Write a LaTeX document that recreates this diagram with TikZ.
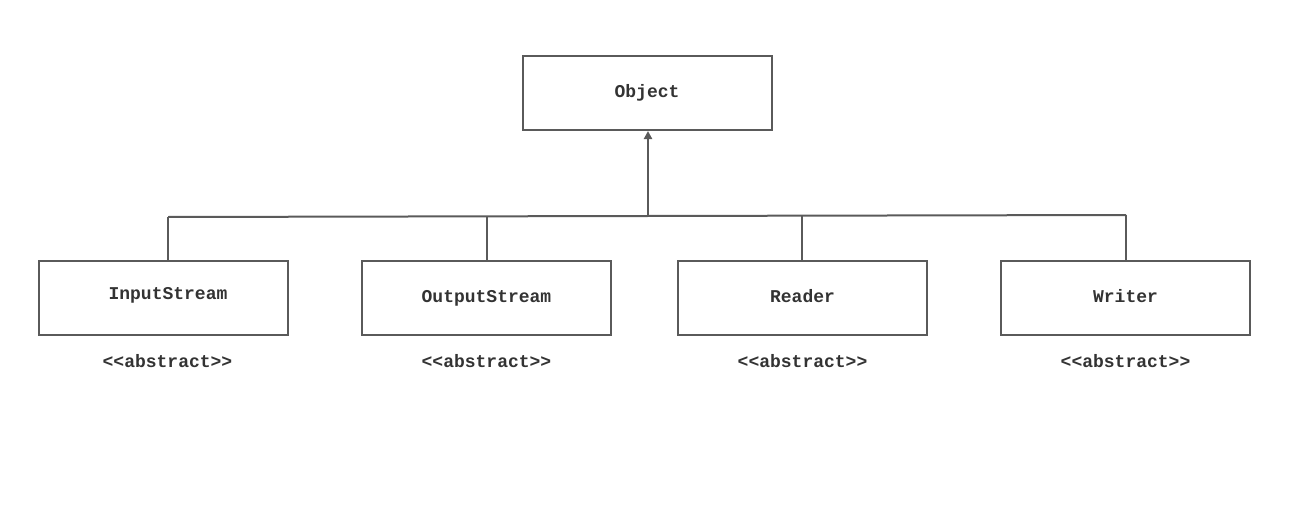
\documentclass[tikz,border=0pt]{standalone}
\usepackage{fontspec}
\setmonofont{Liberation Mono}
\usetikzlibrary{arrows.meta}
\definecolor{linegray}{HTML}{5A5A5A}
\definecolor{textgray}{HTML}{333333}
\tikzset{
  classbox/.style={draw=linegray, line width=2pt, fill=white, minimum width=249pt, minimum height=74pt, inner sep=0pt,
    text height=12pt, text depth=3pt,
    font=\ttfamily\bfseries\fontsize{18}{21}\selectfont, text=textgray},
  stereo/.style={inner sep=0pt, font=\ttfamily\bfseries\fontsize{18}{21}\selectfont, text=textgray},
  conn/.style={draw=linegray, line width=2pt},
}
\begin{document}
\begin{tikzpicture}[x=1pt,y=-1pt]
\useasboundingbox (0,0) rectangle (1297,524);
\node[classbox] (obj) at (647,93) {Object};
\node[classbox, text depth=9pt] (in) at (163.5,298) {\hspace{9pt}InputStream};
\node[classbox] (out) at (486.5,298) {OutputStream};
\node[classbox] (rd) at (802.5,298) {Reader};
\node[classbox] (wr) at (1125.5,298) {Writer};
\node[stereo] (sin) at (167.5,361) {<<abstract>>};
\node[stereo] (sout) at (486.5,361) {<<abstract>>};
\node[stereo] (srd) at (802.5,361) {<<abstract>>};
\node[stereo] (swr) at (1125.5,361) {<<abstract>>};
\coordinate (bl) at (168,217);
\coordinate (br) at (1126,215);
\coordinate (j) at (648,216);
\draw[conn] (bl) -- (br);
\draw[conn] (bl) -- (bl |- in.north);
\draw[conn] (487,216.6) -- (487,261);
\draw[conn] (802,215.6) -- (rd.north -| 802,0);
\draw[conn] (br) -- (br |- wr.north);
\draw[conn, -{Triangle[width=8pt,length=8pt]}] (j) -- (j |- obj.south);
\end{tikzpicture}
\end{document}
